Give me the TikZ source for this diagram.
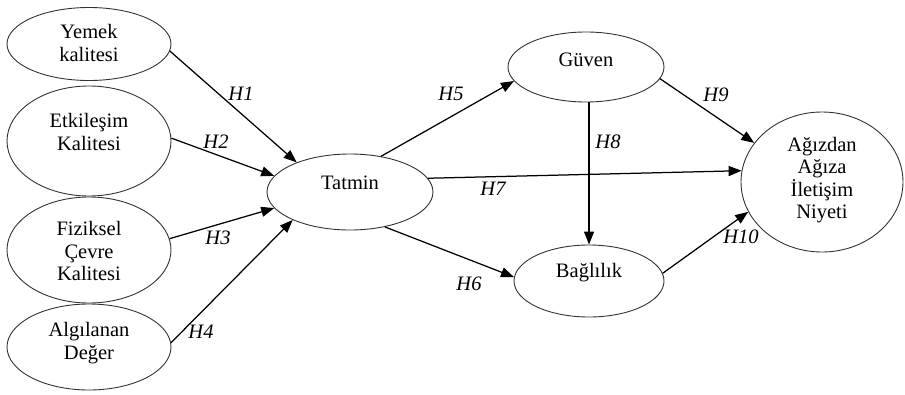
\documentclass[tikz,border=0pt]{standalone}
\usepackage{fontspec}
\setmainfont{Liberation Serif}
\usetikzlibrary{shapes.geometric,arrows.meta}
\begin{document}
\begin{tikzpicture}[x=1pt,y=-1pt,
  construct/.style={ellipse,draw=black!80,line width=0.9pt,inner sep=0pt},
  ctext/.style={inner sep=0pt,align=center,font=\fontsize{20.5}{22.5}\selectfont},
  hyp/.style={draw,line width=1.25pt,-{Triangle[length=13pt,width=10pt]}},
  hlabel/.style={font=\fontsize{20.5}{22}\selectfont\itshape,inner sep=0pt}]
\useasboundingbox (0,0) rectangle (905,394);

% antecedents
\node[construct,minimum width=164pt,minimum height=73pt]  (yemek)  at (89,44)  {};
\node[construct,minimum width=164pt,minimum height=110pt] (etk)    at (89,141) {};
\node[construct,minimum width=164pt,minimum height=106pt] (fiz)    at (89,250) {};
\node[construct,minimum width=164pt,minimum height=86pt]  (algi)   at (89,347) {};

% mediators and outcome
\node[construct,minimum width=166pt,minimum height=76pt]  (tatmin) at (350,192) {};
\node[construct,minimum width=156pt,minimum height=70pt]  (guven)  at (586,67)  {};
\node[construct,minimum width=150pt,minimum height=72pt]  (bag)    at (589,281) {};
\node[construct,minimum width=162pt,minimum height=140pt] (agiz)   at (822,182) {};

% construct names
\node[ctext] (yemek-t)  at (89,43)   {Yemek\\kalitesi};
\node[ctext] (etk-t)    at (89,132)  {Etkileşim\\Kalitesi};
\node[ctext] (fiz-t)    at (89,251)  {Fiziksel\\Çevre\\Kalitesi};
\node[ctext] (algi-t)   at (89,343)  {Algılanan\\Değer};
\node[ctext] (tatmin-t) at (350,183) {Tatmin};
\node[ctext] (guven-t)  at (586,60)  {Güven};
\node[ctext] (bag-t)    at (589,273) {Bağlılık};
\node[ctext] (agiz-t)   at (822,180) {Ağızdan\\Ağıza\\İletişim\\Niyeti};

% hypothesised paths
\draw[hyp] (yemek.-5.5) -- (tatmin.151.9);
\draw[hyp] (etk.2)      -- (tatmin.168.4);
\draw[hyp] (fiz.8.2)    -- (tatmin.192.4);
\draw[hyp] (algi.3.4)   -- (tatmin.206.1);
\draw[hyp] (tatmin.49)  -- (guven.191.8);
\draw[hyp] (tatmin.-45.8) -- (bag.177);
\draw[hyp] (tatmin.10.2)  -- (agiz.172.2);
\draw[hyp] (guven.south -| bag.north) -- (bag.north);
\draw[hyp] (guven.-9.5) -- (agiz.150.5);
\draw[hyp] (bag.6.1)    -- (agiz.202);

% path labels
\node[hlabel] (h1)  at (241,94)  {H1};
\node[hlabel] (h2)  at (216,142) {H2};
\node[hlabel] (h3)  at (218,238) {H3};
\node[hlabel] (h4)  at (201,332) {H4};
\node[hlabel] (h5)  at (451,94)  {H5};
\node[hlabel] (h6)  at (469,284) {H6};
\node[hlabel] (h7)  at (493,189) {H7};
\node[hlabel] (h8)  at (608,142) {H8};
\node[hlabel] (h9)  at (716,95)  {H9};
\node[hlabel] (h10) at (741,237) {H10};
\end{tikzpicture}
\end{document}
